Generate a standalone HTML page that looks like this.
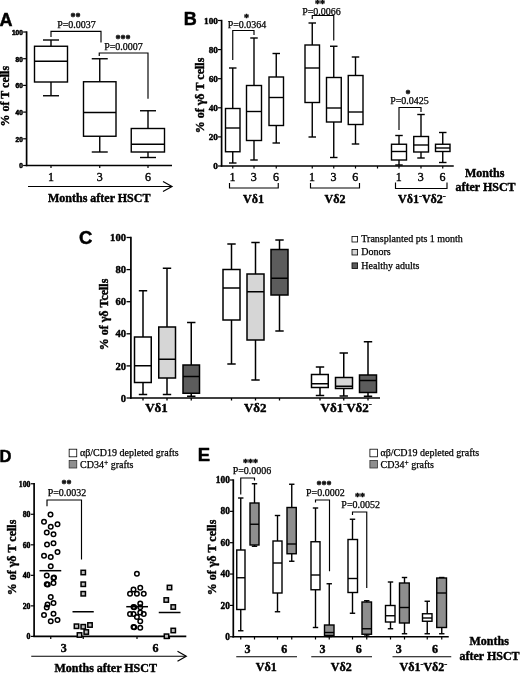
<!DOCTYPE html><html><head><meta charset="utf-8"><title>Figure</title>
<style>html,body{margin:0;padding:0;background:#fff}svg{display:block;filter:blur(0.3px)}</style></head><body>
<svg width="520" height="673" viewBox="0 0 520 673">
<rect width="520" height="673" fill="#fff"/>
<text x="-0.5" y="26.2" font-family='"Liberation Sans", sans-serif' font-size="18" font-weight="bold" stroke="#000" stroke-width="0.5" stroke-linejoin="round" text-anchor="start" >A</text>
<text x="183.7" y="24.8" font-family='"Liberation Sans", sans-serif' font-size="18" font-weight="bold" stroke="#000" stroke-width="0.5" stroke-linejoin="round" text-anchor="start" >B</text>
<text x="78.9" y="243.8" font-family='"Liberation Sans", sans-serif' font-size="18.5" font-weight="bold" stroke="#000" stroke-width="0.5" stroke-linejoin="round" text-anchor="start" >C</text>
<text x="-0.6" y="462.3" font-family='"Liberation Sans", sans-serif' font-size="16.5" font-weight="bold" stroke="#000" stroke-width="0.5" stroke-linejoin="round" text-anchor="start" >D</text>
<text x="197.7" y="461" font-family='"Liberation Sans", sans-serif' font-size="18.5" font-weight="bold" stroke="#000" stroke-width="0.5" stroke-linejoin="round" text-anchor="start" >E</text>
<line x1="26.6" y1="31.3" x2="26.6" y2="166.2" stroke="#000" stroke-width="1.7" />
<line x1="25.75" y1="165.5" x2="172" y2="165.5" stroke="#000" stroke-width="1.7" />
<line x1="23.1" y1="32.0" x2="26.6" y2="32.0" stroke="#000" stroke-width="1.2" />
<text x="22.8" y="34.8" font-family='"Liberation Sans", sans-serif' font-size="6.5" font-weight="bold" stroke="#000" stroke-width="0.55" stroke-linejoin="round" text-anchor="end" >100</text>
<line x1="23.1" y1="58.7" x2="26.6" y2="58.7" stroke="#000" stroke-width="1.2" />
<text x="22.8" y="61.5" font-family='"Liberation Sans", sans-serif' font-size="6.5" font-weight="bold" stroke="#000" stroke-width="0.55" stroke-linejoin="round" text-anchor="end" >80</text>
<line x1="23.1" y1="85.4" x2="26.6" y2="85.4" stroke="#000" stroke-width="1.2" />
<text x="22.8" y="88.2" font-family='"Liberation Sans", sans-serif' font-size="6.5" font-weight="bold" stroke="#000" stroke-width="0.55" stroke-linejoin="round" text-anchor="end" >60</text>
<line x1="23.1" y1="112.1" x2="26.6" y2="112.1" stroke="#000" stroke-width="1.2" />
<text x="22.8" y="114.89999999999999" font-family='"Liberation Sans", sans-serif' font-size="6.5" font-weight="bold" stroke="#000" stroke-width="0.55" stroke-linejoin="round" text-anchor="end" >40</text>
<line x1="23.1" y1="138.8" x2="26.6" y2="138.8" stroke="#000" stroke-width="1.2" />
<text x="22.8" y="141.60000000000002" font-family='"Liberation Sans", sans-serif' font-size="6.5" font-weight="bold" stroke="#000" stroke-width="0.55" stroke-linejoin="round" text-anchor="end" >20</text>
<line x1="23.1" y1="165.5" x2="26.6" y2="165.5" stroke="#000" stroke-width="1.2" />
<text x="22.8" y="168.3" font-family='"Liberation Sans", sans-serif' font-size="6.5" font-weight="bold" stroke="#000" stroke-width="0.55" stroke-linejoin="round" text-anchor="end" >0</text>
<line x1="51" y1="165.5" x2="51" y2="168" stroke="#000" stroke-width="1.2" />
<line x1="99.75" y1="165.5" x2="99.75" y2="168" stroke="#000" stroke-width="1.2" />
<line x1="148" y1="165.5" x2="148" y2="168" stroke="#000" stroke-width="1.2" />
<line x1="51" y1="40" x2="51" y2="46.25" stroke="#000" stroke-width="1.4" />
<line x1="51" y1="82" x2="51" y2="95.75" stroke="#000" stroke-width="1.4" />
<line x1="43" y1="40" x2="59" y2="40" stroke="#000" stroke-width="1.4" />
<line x1="43" y1="95.75" x2="59" y2="95.75" stroke="#000" stroke-width="1.4" />
<rect x="34.5" y="46.25" width="33.0" height="35.75" fill="#fff" stroke="#000" stroke-width="1.4"/>
<line x1="34.5" y1="61.25" x2="67.5" y2="61.25" stroke="#000" stroke-width="1.4" />
<line x1="99.75" y1="58.75" x2="99.75" y2="81.75" stroke="#000" stroke-width="1.4" />
<line x1="99.75" y1="136.25" x2="99.75" y2="152" stroke="#000" stroke-width="1.4" />
<line x1="91.75" y1="58.75" x2="107.75" y2="58.75" stroke="#000" stroke-width="1.4" />
<line x1="91.75" y1="152" x2="107.75" y2="152" stroke="#000" stroke-width="1.4" />
<rect x="83.5" y="81.75" width="32.5" height="54.5" fill="#fff" stroke="#000" stroke-width="1.4"/>
<line x1="83.5" y1="112.5" x2="116" y2="112.5" stroke="#000" stroke-width="1.4" />
<line x1="148" y1="110.75" x2="148" y2="128.5" stroke="#000" stroke-width="1.4" />
<line x1="148" y1="152" x2="148" y2="157.5" stroke="#000" stroke-width="1.4" />
<line x1="140" y1="110.75" x2="156" y2="110.75" stroke="#000" stroke-width="1.4" />
<line x1="140" y1="157.5" x2="156" y2="157.5" stroke="#000" stroke-width="1.4" />
<rect x="131.25" y="128.5" width="33.25" height="23.5" fill="#fff" stroke="#000" stroke-width="1.4"/>
<line x1="131.25" y1="144.25" x2="164.5" y2="144.25" stroke="#000" stroke-width="1.4" />
<text transform="translate(9,96.2) rotate(-90)" font-family='"Liberation Serif", serif' font-size="12" font-weight="bold" stroke="#000" stroke-width="0.42" text-anchor="middle">% of T cells</text>
<text x="51" y="180.6" font-family='"Liberation Serif", serif' font-size="12" stroke="#000" stroke-width="0.4" stroke-linejoin="round" text-anchor="middle" >1</text>
<text x="99.75" y="180.6" font-family='"Liberation Serif", serif' font-size="12" stroke="#000" stroke-width="0.4" stroke-linejoin="round" text-anchor="middle" >3</text>
<text x="148" y="180.6" font-family='"Liberation Serif", serif' font-size="12" stroke="#000" stroke-width="0.4" stroke-linejoin="round" text-anchor="middle" >6</text>
<line x1="28" y1="186.5" x2="171.5" y2="186.5" stroke="#000" stroke-width="1.2" />
<polyline points="163,181.5 172,186.5 163,191.5" fill="none" stroke="#000" stroke-width="1.2"/>
<text x="48" y="202" font-family='"Liberation Serif", serif' font-size="12" font-weight="bold" stroke="#000" stroke-width="0.42" stroke-linejoin="round" text-anchor="start" >Months after HSCT</text>
<polyline points="51,37 51,31.3 101,31.3 101,42.5" fill="none" stroke="#000" stroke-width="1.15"/>
<text x="76.5" y="28" font-family='"Liberation Serif", serif' font-size="10" stroke="#000" stroke-width="0.25" stroke-linejoin="round" text-anchor="middle" >P=0.0037</text>
<text x="75.5" y="20" font-family='"Liberation Serif", serif' font-size="10" font-weight="bold" stroke="#000" stroke-width="0.42" stroke-linejoin="round" text-anchor="middle" >**</text>
<polyline points="99.25,56 99.25,53 148,53 148,98.75" fill="none" stroke="#000" stroke-width="1.15"/>
<text x="123.5" y="49.5" font-family='"Liberation Serif", serif' font-size="10" stroke="#000" stroke-width="0.25" stroke-linejoin="round" text-anchor="middle" >P=0.0007</text>
<text x="123" y="41.5" font-family='"Liberation Serif", serif' font-size="10" font-weight="bold" stroke="#000" stroke-width="0.42" stroke-linejoin="round" text-anchor="middle" >***</text>
<line x1="221.6" y1="19.8" x2="221.6" y2="166.7" stroke="#000" stroke-width="1.7" />
<line x1="220.75" y1="166" x2="453.75" y2="166" stroke="#000" stroke-width="1.7" />
<line x1="218.0" y1="20.5" x2="221.6" y2="20.5" stroke="#000" stroke-width="1.2" />
<text x="217.9" y="23.6" font-family='"Liberation Serif", serif' font-size="9.2" font-weight="bold" stroke="#000" stroke-width="0.42" stroke-linejoin="round" text-anchor="end" >100</text>
<line x1="218.0" y1="49.6" x2="221.6" y2="49.6" stroke="#000" stroke-width="1.2" />
<text x="217.9" y="52.7" font-family='"Liberation Serif", serif' font-size="9.2" font-weight="bold" stroke="#000" stroke-width="0.42" stroke-linejoin="round" text-anchor="end" >80</text>
<line x1="218.0" y1="78.7" x2="221.6" y2="78.7" stroke="#000" stroke-width="1.2" />
<text x="217.9" y="81.8" font-family='"Liberation Serif", serif' font-size="9.2" font-weight="bold" stroke="#000" stroke-width="0.42" stroke-linejoin="round" text-anchor="end" >60</text>
<line x1="218.0" y1="107.80000000000001" x2="221.6" y2="107.80000000000001" stroke="#000" stroke-width="1.2" />
<text x="217.9" y="110.9" font-family='"Liberation Serif", serif' font-size="9.2" font-weight="bold" stroke="#000" stroke-width="0.42" stroke-linejoin="round" text-anchor="end" >40</text>
<line x1="218.0" y1="136.9" x2="221.6" y2="136.9" stroke="#000" stroke-width="1.2" />
<text x="217.9" y="140.0" font-family='"Liberation Serif", serif' font-size="9.2" font-weight="bold" stroke="#000" stroke-width="0.42" stroke-linejoin="round" text-anchor="end" >20</text>
<line x1="218.0" y1="166.0" x2="221.6" y2="166.0" stroke="#000" stroke-width="1.2" />
<text x="217.9" y="169.1" font-family='"Liberation Serif", serif' font-size="9.2" font-weight="bold" stroke="#000" stroke-width="0.42" stroke-linejoin="round" text-anchor="end" >0</text>
<line x1="232.75" y1="166" x2="232.75" y2="168.5" stroke="#000" stroke-width="1.2" />
<line x1="254" y1="166" x2="254" y2="168.5" stroke="#000" stroke-width="1.2" />
<line x1="276.25" y1="166" x2="276.25" y2="168.5" stroke="#000" stroke-width="1.2" />
<line x1="312.25" y1="166" x2="312.25" y2="168.5" stroke="#000" stroke-width="1.2" />
<line x1="333.75" y1="166" x2="333.75" y2="168.5" stroke="#000" stroke-width="1.2" />
<line x1="355.5" y1="166" x2="355.5" y2="168.5" stroke="#000" stroke-width="1.2" />
<line x1="399" y1="166" x2="399" y2="168.5" stroke="#000" stroke-width="1.2" />
<line x1="421" y1="166" x2="421" y2="168.5" stroke="#000" stroke-width="1.2" />
<line x1="442.75" y1="166" x2="442.75" y2="168.5" stroke="#000" stroke-width="1.2" />
<line x1="377.5" y1="166" x2="377.5" y2="168.5" stroke="#000" stroke-width="1.2" />
<line x1="232.75" y1="68" x2="232.75" y2="108.5" stroke="#000" stroke-width="1.4" />
<line x1="232.75" y1="151.75" x2="232.75" y2="163" stroke="#000" stroke-width="1.4" />
<line x1="229.0" y1="68" x2="236.5" y2="68" stroke="#000" stroke-width="1.4" />
<line x1="229.0" y1="163" x2="236.5" y2="163" stroke="#000" stroke-width="1.4" />
<rect x="225.5" y="108.5" width="14.5" height="43.25" fill="#fff" stroke="#000" stroke-width="1.4"/>
<line x1="225.5" y1="128" x2="240" y2="128" stroke="#000" stroke-width="1.4" />
<line x1="254" y1="38" x2="254" y2="85.5" stroke="#000" stroke-width="1.4" />
<line x1="254" y1="140.5" x2="254" y2="160" stroke="#000" stroke-width="1.4" />
<line x1="250.25" y1="38" x2="257.75" y2="38" stroke="#000" stroke-width="1.4" />
<line x1="250.25" y1="160" x2="257.75" y2="160" stroke="#000" stroke-width="1.4" />
<rect x="246.5" y="85.5" width="15.0" height="55.0" fill="#fff" stroke="#000" stroke-width="1.4"/>
<line x1="246.5" y1="111.5" x2="261.5" y2="111.5" stroke="#000" stroke-width="1.4" />
<line x1="276.25" y1="53.5" x2="276.25" y2="77" stroke="#000" stroke-width="1.4" />
<line x1="276.25" y1="125.5" x2="276.25" y2="143" stroke="#000" stroke-width="1.4" />
<line x1="272.5" y1="53.5" x2="280.0" y2="53.5" stroke="#000" stroke-width="1.4" />
<line x1="272.5" y1="143" x2="280.0" y2="143" stroke="#000" stroke-width="1.4" />
<rect x="269" y="77" width="14.5" height="48.5" fill="#fff" stroke="#000" stroke-width="1.4"/>
<line x1="269" y1="97.5" x2="283.5" y2="97.5" stroke="#000" stroke-width="1.4" />
<line x1="312.25" y1="23" x2="312.25" y2="45" stroke="#000" stroke-width="1.4" />
<line x1="312.25" y1="102.5" x2="312.25" y2="137" stroke="#000" stroke-width="1.4" />
<line x1="308.5" y1="23" x2="316.0" y2="23" stroke="#000" stroke-width="1.4" />
<line x1="308.5" y1="137" x2="316.0" y2="137" stroke="#000" stroke-width="1.4" />
<rect x="305" y="45" width="14.5" height="57.5" fill="#fff" stroke="#000" stroke-width="1.4"/>
<line x1="305" y1="68" x2="319.5" y2="68" stroke="#000" stroke-width="1.4" />
<line x1="333.75" y1="46.25" x2="333.75" y2="77.5" stroke="#000" stroke-width="1.4" />
<line x1="333.75" y1="122" x2="333.75" y2="157.5" stroke="#000" stroke-width="1.4" />
<line x1="330.0" y1="46.25" x2="337.5" y2="46.25" stroke="#000" stroke-width="1.4" />
<line x1="330.0" y1="157.5" x2="337.5" y2="157.5" stroke="#000" stroke-width="1.4" />
<rect x="326.5" y="77.5" width="14.75" height="44.5" fill="#fff" stroke="#000" stroke-width="1.4"/>
<line x1="326.5" y1="108" x2="341.25" y2="108" stroke="#000" stroke-width="1.4" />
<line x1="355.5" y1="57" x2="355.5" y2="75.5" stroke="#000" stroke-width="1.4" />
<line x1="355.5" y1="124.5" x2="355.5" y2="144" stroke="#000" stroke-width="1.4" />
<line x1="351.75" y1="57" x2="359.25" y2="57" stroke="#000" stroke-width="1.4" />
<line x1="351.75" y1="144" x2="359.25" y2="144" stroke="#000" stroke-width="1.4" />
<rect x="348.25" y="75.5" width="14.75" height="49.0" fill="#fff" stroke="#000" stroke-width="1.4"/>
<line x1="348.25" y1="112" x2="363" y2="112" stroke="#000" stroke-width="1.4" />
<line x1="399" y1="135.5" x2="399" y2="144.25" stroke="#000" stroke-width="1.4" />
<line x1="399" y1="160" x2="399" y2="165" stroke="#000" stroke-width="1.4" />
<line x1="395.25" y1="135.5" x2="402.75" y2="135.5" stroke="#000" stroke-width="1.4" />
<line x1="395.25" y1="165" x2="402.75" y2="165" stroke="#000" stroke-width="1.4" />
<rect x="391.5" y="144.25" width="15.0" height="15.75" fill="#fff" stroke="#000" stroke-width="1.4"/>
<line x1="391.5" y1="151.5" x2="406.5" y2="151.5" stroke="#000" stroke-width="1.4" />
<line x1="421" y1="114.5" x2="421" y2="136.5" stroke="#000" stroke-width="1.4" />
<line x1="421" y1="152" x2="421" y2="158" stroke="#000" stroke-width="1.4" />
<line x1="417.25" y1="114.5" x2="424.75" y2="114.5" stroke="#000" stroke-width="1.4" />
<line x1="417.25" y1="158" x2="424.75" y2="158" stroke="#000" stroke-width="1.4" />
<rect x="413.75" y="136.5" width="14.75" height="15.5" fill="#fff" stroke="#000" stroke-width="1.4"/>
<line x1="413.75" y1="145" x2="428.5" y2="145" stroke="#000" stroke-width="1.4" />
<line x1="442.75" y1="132.5" x2="442.75" y2="144.25" stroke="#000" stroke-width="1.4" />
<line x1="442.75" y1="151.5" x2="442.75" y2="162.5" stroke="#000" stroke-width="1.4" />
<line x1="439.0" y1="132.5" x2="446.5" y2="132.5" stroke="#000" stroke-width="1.4" />
<line x1="439.0" y1="162.5" x2="446.5" y2="162.5" stroke="#000" stroke-width="1.4" />
<rect x="435.5" y="144.25" width="14.5" height="7.25" fill="#fff" stroke="#000" stroke-width="1.4"/>
<line x1="435.5" y1="148" x2="450" y2="148" stroke="#000" stroke-width="1.4" />
<text transform="translate(204.1,95.5) rotate(-90)" font-family='"Liberation Serif", serif' font-size="12" font-weight="bold" stroke="#000" stroke-width="0.42" text-anchor="middle">% of γδ T cells</text>
<text x="232.55" y="180.6" font-family='"Liberation Serif", serif' font-size="12" stroke="#000" stroke-width="0.4" stroke-linejoin="round" text-anchor="middle" >1</text>
<text x="253.8" y="180.6" font-family='"Liberation Serif", serif' font-size="12" stroke="#000" stroke-width="0.4" stroke-linejoin="round" text-anchor="middle" >3</text>
<text x="276.05" y="180.6" font-family='"Liberation Serif", serif' font-size="12" stroke="#000" stroke-width="0.4" stroke-linejoin="round" text-anchor="middle" >6</text>
<text x="312.05" y="180.6" font-family='"Liberation Serif", serif' font-size="12" stroke="#000" stroke-width="0.4" stroke-linejoin="round" text-anchor="middle" >1</text>
<text x="333.55" y="180.6" font-family='"Liberation Serif", serif' font-size="12" stroke="#000" stroke-width="0.4" stroke-linejoin="round" text-anchor="middle" >3</text>
<text x="355.3" y="180.6" font-family='"Liberation Serif", serif' font-size="12" stroke="#000" stroke-width="0.4" stroke-linejoin="round" text-anchor="middle" >6</text>
<text x="398.8" y="180.6" font-family='"Liberation Serif", serif' font-size="12" stroke="#000" stroke-width="0.4" stroke-linejoin="round" text-anchor="middle" >1</text>
<text x="420.8" y="180.6" font-family='"Liberation Serif", serif' font-size="12" stroke="#000" stroke-width="0.4" stroke-linejoin="round" text-anchor="middle" >3</text>
<text x="442.55" y="180.6" font-family='"Liberation Serif", serif' font-size="12" stroke="#000" stroke-width="0.4" stroke-linejoin="round" text-anchor="middle" >6</text>
<polyline points="229.5,183 229.5,188 278.25,188 278.25,183" fill="none" stroke="#000" stroke-width="1.15"/>
<polyline points="310.5,183 310.5,188 359.5,188 359.5,183" fill="none" stroke="#000" stroke-width="1.15"/>
<polyline points="395.5,182.5 395.5,188.5 447,188.5 447,182.5" fill="none" stroke="#000" stroke-width="1.15"/>
<text x="253.5" y="203" font-family='"Liberation Serif", serif' font-size="12" font-weight="bold" stroke="#000" stroke-width="0.42" stroke-linejoin="round" text-anchor="middle" >Vδ1</text>
<text x="335" y="203" font-family='"Liberation Serif", serif' font-size="12" font-weight="bold" stroke="#000" stroke-width="0.42" stroke-linejoin="round" text-anchor="middle" >Vδ2</text>
<text x="398" y="203" font-family='"Liberation Serif", serif' font-size="12" font-weight="bold" stroke="#000" stroke-width="0.42" stroke-linejoin="round" text-anchor="start" >Vδ1<tspan dy="-4.5" font-size="9">-</tspan><tspan dy="4.5">Vδ2</tspan><tspan dy="-4.5" font-size="9">-</tspan></text>
<text x="465" y="177" font-family='"Liberation Serif", serif' font-size="12" font-weight="bold" stroke="#000" stroke-width="0.42" stroke-linejoin="round" text-anchor="start" >Months</text>
<text x="455.5" y="191.25" font-family='"Liberation Serif", serif' font-size="12" font-weight="bold" stroke="#000" stroke-width="0.42" stroke-linejoin="round" text-anchor="start" >after HSCT</text>
<polyline points="232.75,60 232.75,30.5 254,30.5 254,35" fill="none" stroke="#000" stroke-width="1.15"/>
<text x="247" y="28.3" font-family='"Liberation Serif", serif' font-size="10" stroke="#000" stroke-width="0.25" stroke-linejoin="round" text-anchor="middle" >P=0.0364</text>
<text x="246.5" y="20.5" font-family='"Liberation Serif", serif' font-size="10" font-weight="bold" stroke="#000" stroke-width="0.42" stroke-linejoin="round" text-anchor="middle" >*</text>
<polyline points="312.25,19 312.25,15.5 333.75,15.5 333.75,40.5" fill="none" stroke="#000" stroke-width="1.15"/>
<text x="321.5" y="14.8" font-family='"Liberation Serif", serif' font-size="10" stroke="#000" stroke-width="0.25" stroke-linejoin="round" text-anchor="middle" >P=0.0066</text>
<text x="320" y="6.5" font-family='"Liberation Serif", serif' font-size="10" font-weight="bold" stroke="#000" stroke-width="0.42" stroke-linejoin="round" text-anchor="middle" >**</text>
<polyline points="399,130 399,107.5 421,107.5 421,112" fill="none" stroke="#000" stroke-width="1.15"/>
<text x="409.5" y="104.3" font-family='"Liberation Serif", serif' font-size="10" stroke="#000" stroke-width="0.25" stroke-linejoin="round" text-anchor="middle" >P=0.0425</text>
<text x="408" y="96.5" font-family='"Liberation Serif", serif' font-size="10" font-weight="bold" stroke="#000" stroke-width="0.42" stroke-linejoin="round" text-anchor="middle" >*</text>
<line x1="130.9" y1="236.8" x2="130.9" y2="398.85" stroke="#000" stroke-width="1.7" />
<line x1="130.05" y1="398" x2="380" y2="398" stroke="#000" stroke-width="1.7" />
<line x1="126.5" y1="237.5" x2="130.9" y2="237.5" stroke="#000" stroke-width="1.3" />
<text x="126.0" y="241.1" font-family='"Liberation Serif", serif' font-size="10.6" font-weight="bold" stroke="#000" stroke-width="0.42" stroke-linejoin="round" text-anchor="end" >100</text>
<line x1="126.5" y1="269.6" x2="130.9" y2="269.6" stroke="#000" stroke-width="1.3" />
<text x="126.0" y="273.20000000000005" font-family='"Liberation Serif", serif' font-size="10.6" font-weight="bold" stroke="#000" stroke-width="0.42" stroke-linejoin="round" text-anchor="end" >80</text>
<line x1="126.5" y1="301.7" x2="130.9" y2="301.7" stroke="#000" stroke-width="1.3" />
<text x="126.0" y="305.3" font-family='"Liberation Serif", serif' font-size="10.6" font-weight="bold" stroke="#000" stroke-width="0.42" stroke-linejoin="round" text-anchor="end" >60</text>
<line x1="126.5" y1="333.8" x2="130.9" y2="333.8" stroke="#000" stroke-width="1.3" />
<text x="126.0" y="337.40000000000003" font-family='"Liberation Serif", serif' font-size="10.6" font-weight="bold" stroke="#000" stroke-width="0.42" stroke-linejoin="round" text-anchor="end" >40</text>
<line x1="126.5" y1="365.9" x2="130.9" y2="365.9" stroke="#000" stroke-width="1.3" />
<text x="126.0" y="369.5" font-family='"Liberation Serif", serif' font-size="10.6" font-weight="bold" stroke="#000" stroke-width="0.42" stroke-linejoin="round" text-anchor="end" >20</text>
<line x1="126.5" y1="398.0" x2="130.9" y2="398.0" stroke="#000" stroke-width="1.3" />
<text x="126.0" y="401.6" font-family='"Liberation Serif", serif' font-size="10.6" font-weight="bold" stroke="#000" stroke-width="0.42" stroke-linejoin="round" text-anchor="end" >0</text>
<line x1="143" y1="398" x2="143" y2="400.5" stroke="#000" stroke-width="1.3" />
<line x1="167" y1="398" x2="167" y2="400.5" stroke="#000" stroke-width="1.3" />
<line x1="191.25" y1="398" x2="191.25" y2="400.5" stroke="#000" stroke-width="1.3" />
<line x1="231.5" y1="398" x2="231.5" y2="400.5" stroke="#000" stroke-width="1.3" />
<line x1="255.5" y1="398" x2="255.5" y2="400.5" stroke="#000" stroke-width="1.3" />
<line x1="279.5" y1="398" x2="279.5" y2="400.5" stroke="#000" stroke-width="1.3" />
<line x1="320" y1="398" x2="320" y2="400.5" stroke="#000" stroke-width="1.3" />
<line x1="343.75" y1="398" x2="343.75" y2="400.5" stroke="#000" stroke-width="1.3" />
<line x1="368" y1="398" x2="368" y2="400.5" stroke="#000" stroke-width="1.3" />
<line x1="143" y1="290.75" x2="143" y2="337" stroke="#000" stroke-width="1.5" />
<line x1="143" y1="382.5" x2="143" y2="394.5" stroke="#000" stroke-width="1.5" />
<line x1="138.8" y1="290.75" x2="147.2" y2="290.75" stroke="#000" stroke-width="1.5" />
<line x1="138.8" y1="394.5" x2="147.2" y2="394.5" stroke="#000" stroke-width="1.5" />
<rect x="134.5" y="337" width="16.75" height="45.5" fill="#fff" stroke="#000" stroke-width="1.5"/>
<line x1="134.5" y1="365.75" x2="151.25" y2="365.75" stroke="#000" stroke-width="1.5" />
<line x1="167" y1="268.25" x2="167" y2="327" stroke="#000" stroke-width="1.5" />
<line x1="167" y1="378" x2="167" y2="394.5" stroke="#000" stroke-width="1.5" />
<line x1="162.8" y1="268.25" x2="171.2" y2="268.25" stroke="#000" stroke-width="1.5" />
<line x1="162.8" y1="394.5" x2="171.2" y2="394.5" stroke="#000" stroke-width="1.5" />
<rect x="158.75" y="327" width="16.75" height="51" fill="#d6d6d6" stroke="#000" stroke-width="1.5"/>
<line x1="158.75" y1="359.25" x2="175.5" y2="359.25" stroke="#000" stroke-width="1.5" />
<line x1="191.25" y1="322.5" x2="191.25" y2="365" stroke="#000" stroke-width="1.5" />
<line x1="191.25" y1="393.25" x2="191.25" y2="396.25" stroke="#000" stroke-width="1.5" />
<line x1="187.05" y1="322.5" x2="195.45" y2="322.5" stroke="#000" stroke-width="1.5" />
<line x1="187.05" y1="396.25" x2="195.45" y2="396.25" stroke="#000" stroke-width="1.5" />
<rect x="183" y="365" width="16.5" height="28.25" fill="#5c5c5c" stroke="#000" stroke-width="1.5"/>
<line x1="183" y1="376.5" x2="199.5" y2="376.5" stroke="#000" stroke-width="1.5" />
<line x1="231.5" y1="244" x2="231.5" y2="269.5" stroke="#000" stroke-width="1.5" />
<line x1="231.5" y1="320" x2="231.5" y2="364" stroke="#000" stroke-width="1.5" />
<line x1="227.3" y1="244" x2="235.7" y2="244" stroke="#000" stroke-width="1.5" />
<line x1="227.3" y1="364" x2="235.7" y2="364" stroke="#000" stroke-width="1.5" />
<rect x="223" y="269.5" width="17" height="50.5" fill="#fff" stroke="#000" stroke-width="1.5"/>
<line x1="223" y1="288" x2="240" y2="288" stroke="#000" stroke-width="1.5" />
<line x1="255.5" y1="242.5" x2="255.5" y2="274" stroke="#000" stroke-width="1.5" />
<line x1="255.5" y1="340" x2="255.5" y2="380" stroke="#000" stroke-width="1.5" />
<line x1="251.3" y1="242.5" x2="259.7" y2="242.5" stroke="#000" stroke-width="1.5" />
<line x1="251.3" y1="380" x2="259.7" y2="380" stroke="#000" stroke-width="1.5" />
<rect x="247" y="274" width="17" height="66" fill="#d6d6d6" stroke="#000" stroke-width="1.5"/>
<line x1="247" y1="291.75" x2="264" y2="291.75" stroke="#000" stroke-width="1.5" />
<line x1="279.5" y1="240" x2="279.5" y2="249.5" stroke="#000" stroke-width="1.5" />
<line x1="279.5" y1="295" x2="279.5" y2="331" stroke="#000" stroke-width="1.5" />
<line x1="275.3" y1="240" x2="283.7" y2="240" stroke="#000" stroke-width="1.5" />
<line x1="275.3" y1="331" x2="283.7" y2="331" stroke="#000" stroke-width="1.5" />
<rect x="271" y="249.5" width="17" height="45.5" fill="#5c5c5c" stroke="#000" stroke-width="1.5"/>
<line x1="271" y1="278.25" x2="288" y2="278.25" stroke="#000" stroke-width="1.5" />
<line x1="320" y1="367" x2="320" y2="374.5" stroke="#000" stroke-width="1.5" />
<line x1="320" y1="387.5" x2="320" y2="395.5" stroke="#000" stroke-width="1.5" />
<line x1="315.8" y1="367" x2="324.2" y2="367" stroke="#000" stroke-width="1.5" />
<line x1="315.8" y1="395.5" x2="324.2" y2="395.5" stroke="#000" stroke-width="1.5" />
<rect x="311.5" y="374.5" width="16.75" height="13.0" fill="#fff" stroke="#000" stroke-width="1.5"/>
<line x1="311.5" y1="383.75" x2="328.25" y2="383.75" stroke="#000" stroke-width="1.5" />
<line x1="343.75" y1="353" x2="343.75" y2="377.5" stroke="#000" stroke-width="1.5" />
<line x1="343.75" y1="388.5" x2="343.75" y2="396" stroke="#000" stroke-width="1.5" />
<line x1="339.55" y1="353" x2="347.95" y2="353" stroke="#000" stroke-width="1.5" />
<line x1="339.55" y1="396" x2="347.95" y2="396" stroke="#000" stroke-width="1.5" />
<rect x="335.5" y="377.5" width="17.0" height="11.0" fill="#d6d6d6" stroke="#000" stroke-width="1.5"/>
<line x1="335.5" y1="386.25" x2="352.5" y2="386.25" stroke="#000" stroke-width="1.5" />
<line x1="368" y1="341.75" x2="368" y2="375" stroke="#000" stroke-width="1.5" />
<line x1="368" y1="392.5" x2="368" y2="396.25" stroke="#000" stroke-width="1.5" />
<line x1="363.8" y1="341.75" x2="372.2" y2="341.75" stroke="#000" stroke-width="1.5" />
<line x1="363.8" y1="396.25" x2="372.2" y2="396.25" stroke="#000" stroke-width="1.5" />
<rect x="359.5" y="375" width="17.0" height="17.5" fill="#5c5c5c" stroke="#000" stroke-width="1.5"/>
<line x1="359.5" y1="380.5" x2="376.5" y2="380.5" stroke="#000" stroke-width="1.5" />
<text transform="translate(108,314.5) rotate(-90)" font-family='"Liberation Serif", serif' font-size="12" font-weight="bold" stroke="#000" stroke-width="0.42" text-anchor="middle">% of γδ Tcells</text>
<text x="156.5" y="411.5" font-family='"Liberation Serif", serif' font-size="13" font-weight="bold" stroke="#000" stroke-width="0.42" stroke-linejoin="round" text-anchor="middle" >Vδ1</text>
<text x="255.3" y="412" font-family='"Liberation Serif", serif' font-size="13" font-weight="bold" stroke="#000" stroke-width="0.42" stroke-linejoin="round" text-anchor="middle" >Vδ2</text>
<text x="320.5" y="411.5" font-family='"Liberation Serif", serif' font-size="13" font-weight="bold" stroke="#000" stroke-width="0.42" stroke-linejoin="round" text-anchor="start" >Vδ1<tspan dy="-4.5" font-size="9">-</tspan><tspan dy="4.5">Vδ2</tspan><tspan dy="-4.5" font-size="9">-</tspan></text>
<rect x="352" y="236.4" width="5.6" height="5.6" fill="#fff" stroke="#000" stroke-width="0.8"/>
<text x="361.3" y="242" font-family='"Liberation Serif", serif' font-size="10" stroke="#000" stroke-width="0.25" stroke-linejoin="round" text-anchor="start" >Transplanted pts 1 month</text>
<rect x="352" y="249.4" width="5.6" height="5.6" fill="#d6d6d6" stroke="#000" stroke-width="0.8"/>
<text x="361.3" y="255" font-family='"Liberation Serif", serif' font-size="10" stroke="#000" stroke-width="0.25" stroke-linejoin="round" text-anchor="start" >Donors</text>
<rect x="352" y="262.9" width="5.6" height="5.6" fill="#5c5c5c" stroke="#000" stroke-width="0.8"/>
<text x="361.3" y="268.5" font-family='"Liberation Serif", serif' font-size="10" stroke="#000" stroke-width="0.25" stroke-linejoin="round" text-anchor="start" >Healthy adults</text>
<line x1="34.1" y1="483" x2="34.1" y2="637.1" stroke="#000" stroke-width="1.7" />
<line x1="33.25" y1="636.4" x2="186.3" y2="636.4" stroke="#000" stroke-width="1.7" />
<line x1="30.8" y1="483.75" x2="34.1" y2="483.75" stroke="#000" stroke-width="1.2" />
<text x="30.5" y="486.75" font-family='"Liberation Serif", serif' font-size="9" font-weight="bold" stroke="#000" stroke-width="0.5" stroke-linejoin="round" text-anchor="end" textLength="11.7" lengthAdjust="spacingAndGlyphs">100</text>
<line x1="30.8" y1="514.28" x2="34.1" y2="514.28" stroke="#000" stroke-width="1.2" />
<text x="30.5" y="517.28" font-family='"Liberation Serif", serif' font-size="9" font-weight="bold" stroke="#000" stroke-width="0.5" stroke-linejoin="round" text-anchor="end" textLength="7.8" lengthAdjust="spacingAndGlyphs">80</text>
<line x1="30.8" y1="544.81" x2="34.1" y2="544.81" stroke="#000" stroke-width="1.2" />
<text x="30.5" y="547.81" font-family='"Liberation Serif", serif' font-size="9" font-weight="bold" stroke="#000" stroke-width="0.5" stroke-linejoin="round" text-anchor="end" textLength="7.8" lengthAdjust="spacingAndGlyphs">60</text>
<line x1="30.8" y1="575.34" x2="34.1" y2="575.34" stroke="#000" stroke-width="1.2" />
<text x="30.5" y="578.34" font-family='"Liberation Serif", serif' font-size="9" font-weight="bold" stroke="#000" stroke-width="0.5" stroke-linejoin="round" text-anchor="end" textLength="7.8" lengthAdjust="spacingAndGlyphs">40</text>
<line x1="30.8" y1="605.87" x2="34.1" y2="605.87" stroke="#000" stroke-width="1.2" />
<text x="30.5" y="608.87" font-family='"Liberation Serif", serif' font-size="9" font-weight="bold" stroke="#000" stroke-width="0.5" stroke-linejoin="round" text-anchor="end" textLength="7.8" lengthAdjust="spacingAndGlyphs">20</text>
<line x1="30.8" y1="636.4" x2="34.1" y2="636.4" stroke="#000" stroke-width="1.2" />
<text x="30.5" y="639.4" font-family='"Liberation Serif", serif' font-size="9" font-weight="bold" stroke="#000" stroke-width="0.5" stroke-linejoin="round" text-anchor="end" textLength="3.9" lengthAdjust="spacingAndGlyphs">0</text>
<line x1="50.75" y1="636.4" x2="50.75" y2="639" stroke="#000" stroke-width="1.2" />
<line x1="83.25" y1="636.4" x2="83.25" y2="639" stroke="#000" stroke-width="1.2" />
<line x1="137" y1="636.4" x2="137" y2="639" stroke="#000" stroke-width="1.2" />
<line x1="169.5" y1="636.4" x2="169.5" y2="639" stroke="#000" stroke-width="1.2" />
<text transform="translate(15.5,557.5) rotate(-90)" font-family='"Liberation Serif", serif' font-size="12" font-weight="bold" stroke="#000" stroke-width="0.42" text-anchor="middle">% of γδ T cells</text>
<circle cx="50.5" cy="514.5" r="2.25" fill="#fff" fill-opacity="0" stroke="#000" stroke-width="1.5"/>
<circle cx="44" cy="521.75" r="2.25" fill="#fff" fill-opacity="0" stroke="#000" stroke-width="1.5"/>
<circle cx="57.5" cy="524.25" r="2.25" fill="#fff" fill-opacity="0" stroke="#000" stroke-width="1.5"/>
<circle cx="50.75" cy="526.75" r="2.25" fill="#fff" fill-opacity="0" stroke="#000" stroke-width="1.5"/>
<circle cx="46.75" cy="532.5" r="2.25" fill="#fff" fill-opacity="0" stroke="#000" stroke-width="1.5"/>
<circle cx="53.5" cy="534.25" r="2.25" fill="#fff" fill-opacity="0" stroke="#000" stroke-width="1.5"/>
<circle cx="47" cy="544.5" r="2.25" fill="#fff" fill-opacity="0" stroke="#000" stroke-width="1.5"/>
<circle cx="53.5" cy="543.25" r="2.25" fill="#fff" fill-opacity="0" stroke="#000" stroke-width="1.5"/>
<circle cx="57.5" cy="552" r="2.25" fill="#fff" fill-opacity="0" stroke="#000" stroke-width="1.5"/>
<circle cx="44" cy="555.75" r="2.25" fill="#fff" fill-opacity="0" stroke="#000" stroke-width="1.5"/>
<circle cx="50.75" cy="557" r="2.25" fill="#fff" fill-opacity="0" stroke="#000" stroke-width="1.5"/>
<circle cx="50.75" cy="566.25" r="2.25" fill="#fff" fill-opacity="0" stroke="#000" stroke-width="1.5"/>
<circle cx="46.75" cy="575.5" r="2.25" fill="#fff" fill-opacity="0" stroke="#000" stroke-width="1.5"/>
<circle cx="53.5" cy="578" r="2.25" fill="#fff" fill-opacity="0" stroke="#000" stroke-width="1.5"/>
<circle cx="54" cy="577.4" r="2.25" fill="#fff" fill-opacity="0" stroke="#000" stroke-width="1.5"/>
<circle cx="46.75" cy="584.25" r="2.25" fill="#fff" fill-opacity="0" stroke="#000" stroke-width="1.5"/>
<circle cx="53.5" cy="583" r="2.25" fill="#fff" fill-opacity="0" stroke="#000" stroke-width="1.5"/>
<circle cx="47.8" cy="584.6" r="2.25" fill="#fff" fill-opacity="0" stroke="#000" stroke-width="1.5"/>
<circle cx="50.75" cy="597" r="2.25" fill="#fff" fill-opacity="0" stroke="#000" stroke-width="1.5"/>
<circle cx="53.5" cy="603" r="2.25" fill="#fff" fill-opacity="0" stroke="#000" stroke-width="1.5"/>
<circle cx="47.5" cy="604.5" r="2.25" fill="#fff" fill-opacity="0" stroke="#000" stroke-width="1.5"/>
<circle cx="46.75" cy="607.5" r="2.25" fill="#fff" fill-opacity="0" stroke="#000" stroke-width="1.5"/>
<circle cx="44" cy="615" r="2.25" fill="#fff" fill-opacity="0" stroke="#000" stroke-width="1.5"/>
<circle cx="53.5" cy="613.75" r="2.25" fill="#fff" fill-opacity="0" stroke="#000" stroke-width="1.5"/>
<circle cx="50.75" cy="621.25" r="2.25" fill="#fff" fill-opacity="0" stroke="#000" stroke-width="1.5"/>
<circle cx="57.5" cy="620" r="2.25" fill="#fff" fill-opacity="0" stroke="#000" stroke-width="1.5"/>
<circle cx="136.9" cy="573.75" r="2.25" fill="#fff" fill-opacity="0" stroke="#000" stroke-width="1.5"/>
<circle cx="133.5" cy="589.6" r="2.25" fill="#fff" fill-opacity="0" stroke="#000" stroke-width="1.5"/>
<circle cx="140.25" cy="587.75" r="2.25" fill="#fff" fill-opacity="0" stroke="#000" stroke-width="1.5"/>
<circle cx="130" cy="593.75" r="2.25" fill="#fff" fill-opacity="0" stroke="#000" stroke-width="1.5"/>
<circle cx="136.9" cy="593.75" r="2.25" fill="#fff" fill-opacity="0" stroke="#000" stroke-width="1.5"/>
<circle cx="143.75" cy="593.75" r="2.25" fill="#fff" fill-opacity="0" stroke="#000" stroke-width="1.5"/>
<circle cx="140.25" cy="603.4" r="2.25" fill="#fff" fill-opacity="0" stroke="#000" stroke-width="1.5"/>
<circle cx="133.5" cy="606.9" r="2.25" fill="#fff" fill-opacity="0" stroke="#000" stroke-width="1.5"/>
<circle cx="134.2" cy="607.3" r="2.25" fill="#fff" fill-opacity="0" stroke="#000" stroke-width="1.5"/>
<circle cx="140.25" cy="607.25" r="2.25" fill="#fff" fill-opacity="0" stroke="#000" stroke-width="1.5"/>
<circle cx="130" cy="614" r="2.25" fill="#fff" fill-opacity="0" stroke="#000" stroke-width="1.5"/>
<circle cx="133.5" cy="614" r="2.25" fill="#fff" fill-opacity="0" stroke="#000" stroke-width="1.5"/>
<circle cx="140.25" cy="612.5" r="2.25" fill="#fff" fill-opacity="0" stroke="#000" stroke-width="1.5"/>
<circle cx="143.75" cy="614" r="2.25" fill="#fff" fill-opacity="0" stroke="#000" stroke-width="1.5"/>
<circle cx="136.9" cy="616.9" r="2.25" fill="#fff" fill-opacity="0" stroke="#000" stroke-width="1.5"/>
<circle cx="140.25" cy="621.25" r="2.25" fill="#fff" fill-opacity="0" stroke="#000" stroke-width="1.5"/>
<circle cx="133.5" cy="626.9" r="2.25" fill="#fff" fill-opacity="0" stroke="#000" stroke-width="1.5"/>
<circle cx="134.2" cy="627.3" r="2.25" fill="#fff" fill-opacity="0" stroke="#000" stroke-width="1.5"/>
<circle cx="140.25" cy="627.75" r="2.25" fill="#fff" fill-opacity="0" stroke="#000" stroke-width="1.5"/>
<rect x="81.05" y="570.3" width="4.4" height="4.4" fill="#c0c0c0" stroke="#000" stroke-width="1.5"/>
<rect x="81.05" y="582.05" width="4.4" height="4.4" fill="#c0c0c0" stroke="#000" stroke-width="1.5"/>
<rect x="81.05" y="591.55" width="4.4" height="4.4" fill="#c0c0c0" stroke="#000" stroke-width="1.5"/>
<rect x="74.3" y="624.05" width="4.4" height="4.4" fill="#c0c0c0" stroke="#000" stroke-width="1.5"/>
<rect x="81.05" y="624.55" width="4.4" height="4.4" fill="#c0c0c0" stroke="#000" stroke-width="1.5"/>
<rect x="87.8" y="622.8" width="4.4" height="4.4" fill="#c0c0c0" stroke="#000" stroke-width="1.5"/>
<rect x="84.05" y="629.8" width="4.4" height="4.4" fill="#c0c0c0" stroke="#000" stroke-width="1.5"/>
<rect x="77.3" y="632.8" width="4.4" height="4.4" fill="#c0c0c0" stroke="#000" stroke-width="1.5"/>
<rect x="167.3" y="585.3" width="4.4" height="4.4" fill="#c0c0c0" stroke="#000" stroke-width="1.5"/>
<rect x="164.05" y="597.8" width="4.4" height="4.4" fill="#c0c0c0" stroke="#000" stroke-width="1.5"/>
<rect x="171.05" y="604.8" width="4.4" height="4.4" fill="#c0c0c0" stroke="#000" stroke-width="1.5"/>
<rect x="171.05" y="628.3" width="4.4" height="4.4" fill="#c0c0c0" stroke="#000" stroke-width="1.5"/>
<rect x="164.3" y="634.05" width="4.4" height="4.4" fill="#c0c0c0" stroke="#000" stroke-width="1.5"/>
<line x1="39.5" y1="570.7" x2="61.25" y2="570.7" stroke="#000" stroke-width="1.5" />
<line x1="72.5" y1="611.75" x2="93.75" y2="611.75" stroke="#000" stroke-width="1.5" />
<line x1="126.25" y1="606.7" x2="148" y2="606.7" stroke="#000" stroke-width="1.5" />
<line x1="158.75" y1="612.5" x2="180.5" y2="612.5" stroke="#000" stroke-width="1.5" />
<text x="63.75" y="652" font-family='"Liberation Serif", serif' font-size="12" font-weight="bold" stroke="#000" stroke-width="0.42" stroke-linejoin="round" text-anchor="middle" >3</text>
<text x="155.5" y="652" font-family='"Liberation Serif", serif' font-size="12" font-weight="bold" stroke="#000" stroke-width="0.42" stroke-linejoin="round" text-anchor="middle" >6</text>
<line x1="31.25" y1="656.25" x2="185.8" y2="656.25" stroke="#000" stroke-width="1.2" />
<polyline points="177.5,651.25 186.25,656.25 177.5,661.25" fill="none" stroke="#000" stroke-width="1.2"/>
<text x="54.5" y="672" font-family='"Liberation Serif", serif' font-size="12" font-weight="bold" stroke="#000" stroke-width="0.42" stroke-linejoin="round" text-anchor="start" >Months after HSCT</text>
<polyline points="47,506.25 47,500 81.5,500 81.5,559.5" fill="none" stroke="#000" stroke-width="1.15"/>
<text x="67" y="495.5" font-family='"Liberation Serif", serif' font-size="10" stroke="#000" stroke-width="0.25" stroke-linejoin="round" text-anchor="middle" >P=0.0032</text>
<text x="66.5" y="487" font-family='"Liberation Serif", serif' font-size="10" font-weight="bold" stroke="#000" stroke-width="0.42" stroke-linejoin="round" text-anchor="middle" >**</text>
<rect x="69.15" y="449.2" width="7.6" height="7.6" fill="#fff" stroke="#000" stroke-width="0.8"/>
<rect x="69.15" y="460.4" width="7.6" height="7.6" fill="#8e8e8e" stroke="#333" stroke-width="0.8"/>
<text x="80" y="455.5" font-family='"Liberation Serif", serif' font-size="10" stroke="#000" stroke-width="0.25" stroke-linejoin="round" text-anchor="start" >αβ/CD19 depleted grafts</text>
<text x="80" y="468" font-family='"Liberation Serif", serif' font-size="10" stroke="#000" stroke-width="0.25" stroke-linejoin="round" text-anchor="start" >CD34<tspan dy="-3.5" font-size="7.5">+</tspan><tspan dy="3.5"> grafts</tspan></text>
<rect x="369.9" y="449.2" width="7.6" height="7.6" fill="#fff" stroke="#000" stroke-width="0.8"/>
<rect x="369.9" y="460.4" width="7.6" height="7.6" fill="#8e8e8e" stroke="#333" stroke-width="0.8"/>
<text x="380.5" y="455.5" font-family='"Liberation Serif", serif' font-size="10" stroke="#000" stroke-width="0.25" stroke-linejoin="round" text-anchor="start" >αβ/CD19 depleted grafts</text>
<text x="380.5" y="468" font-family='"Liberation Serif", serif' font-size="10" stroke="#000" stroke-width="0.25" stroke-linejoin="round" text-anchor="start" >CD34<tspan dy="-3.5" font-size="7.5">+</tspan><tspan dy="3.5"> grafts</tspan></text>
<line x1="233.3" y1="479.3" x2="233.3" y2="637.5" stroke="#000" stroke-width="1.7" />
<line x1="232.45000000000002" y1="636.75" x2="448.75" y2="636.75" stroke="#000" stroke-width="1.7" />
<line x1="230.0" y1="480.0" x2="233.3" y2="480.0" stroke="#000" stroke-width="1.2" />
<text x="229.9" y="483.1" font-family='"Liberation Serif", serif' font-size="9.4" font-weight="bold" stroke="#000" stroke-width="0.42" stroke-linejoin="round" text-anchor="end" >100</text>
<line x1="230.0" y1="511.35" x2="233.3" y2="511.35" stroke="#000" stroke-width="1.2" />
<text x="229.9" y="514.45" font-family='"Liberation Serif", serif' font-size="9.4" font-weight="bold" stroke="#000" stroke-width="0.42" stroke-linejoin="round" text-anchor="end" >80</text>
<line x1="230.0" y1="542.7" x2="233.3" y2="542.7" stroke="#000" stroke-width="1.2" />
<text x="229.9" y="545.8000000000001" font-family='"Liberation Serif", serif' font-size="9.4" font-weight="bold" stroke="#000" stroke-width="0.42" stroke-linejoin="round" text-anchor="end" >60</text>
<line x1="230.0" y1="574.05" x2="233.3" y2="574.05" stroke="#000" stroke-width="1.2" />
<text x="229.9" y="577.15" font-family='"Liberation Serif", serif' font-size="9.4" font-weight="bold" stroke="#000" stroke-width="0.42" stroke-linejoin="round" text-anchor="end" >40</text>
<line x1="230.0" y1="605.4" x2="233.3" y2="605.4" stroke="#000" stroke-width="1.2" />
<text x="229.9" y="608.5" font-family='"Liberation Serif", serif' font-size="9.4" font-weight="bold" stroke="#000" stroke-width="0.42" stroke-linejoin="round" text-anchor="end" >20</text>
<line x1="230.0" y1="636.75" x2="233.3" y2="636.75" stroke="#000" stroke-width="1.2" />
<text x="229.9" y="639.85" font-family='"Liberation Serif", serif' font-size="9.4" font-weight="bold" stroke="#000" stroke-width="0.42" stroke-linejoin="round" text-anchor="end" >0</text>
<line x1="240.75" y1="636.75" x2="240.75" y2="639.5" stroke="#000" stroke-width="1.2" />
<line x1="254.5" y1="636.75" x2="254.5" y2="639.5" stroke="#000" stroke-width="1.2" />
<line x1="277.5" y1="636.75" x2="277.5" y2="639.5" stroke="#000" stroke-width="1.2" />
<line x1="291.75" y1="636.75" x2="291.75" y2="639.5" stroke="#000" stroke-width="1.2" />
<line x1="315.5" y1="636.75" x2="315.5" y2="639.5" stroke="#000" stroke-width="1.2" />
<line x1="329.25" y1="636.75" x2="329.25" y2="639.5" stroke="#000" stroke-width="1.2" />
<line x1="352.5" y1="636.75" x2="352.5" y2="639.5" stroke="#000" stroke-width="1.2" />
<line x1="366.75" y1="636.75" x2="366.75" y2="639.5" stroke="#000" stroke-width="1.2" />
<line x1="390.5" y1="636.75" x2="390.5" y2="639.5" stroke="#000" stroke-width="1.2" />
<line x1="404.5" y1="636.75" x2="404.5" y2="639.5" stroke="#000" stroke-width="1.2" />
<line x1="427.25" y1="636.75" x2="427.25" y2="639.5" stroke="#000" stroke-width="1.2" />
<line x1="441.75" y1="636.75" x2="441.75" y2="639.5" stroke="#000" stroke-width="1.2" />
<line x1="240.75" y1="498" x2="240.75" y2="550" stroke="#000" stroke-width="1.4" />
<line x1="240.75" y1="609.5" x2="240.75" y2="630.75" stroke="#000" stroke-width="1.4" />
<line x1="238.05" y1="498" x2="243.45" y2="498" stroke="#000" stroke-width="1.4" />
<line x1="238.05" y1="630.75" x2="243.45" y2="630.75" stroke="#000" stroke-width="1.4" />
<rect x="236.75" y="550" width="8.25" height="59.5" fill="#fff" stroke="#000" stroke-width="1.4"/>
<line x1="236.75" y1="577.75" x2="245" y2="577.75" stroke="#000" stroke-width="1.4" />
<line x1="254.5" y1="483.75" x2="254.5" y2="503" stroke="#000" stroke-width="1.4" />
<line x1="254.5" y1="545" x2="254.5" y2="546.25" stroke="#000" stroke-width="1.4" />
<line x1="251.8" y1="483.75" x2="257.2" y2="483.75" stroke="#000" stroke-width="1.4" />
<line x1="251.8" y1="546.25" x2="257.2" y2="546.25" stroke="#000" stroke-width="1.4" />
<rect x="250" y="503" width="9" height="42" fill="#8e8e8e" stroke="#000" stroke-width="1.4"/>
<line x1="250" y1="524.25" x2="259" y2="524.25" stroke="#000" stroke-width="1.4" />
<line x1="277.5" y1="515.5" x2="277.5" y2="541" stroke="#000" stroke-width="1.4" />
<line x1="277.5" y1="593" x2="277.5" y2="611.75" stroke="#000" stroke-width="1.4" />
<line x1="274.8" y1="515.5" x2="280.2" y2="515.5" stroke="#000" stroke-width="1.4" />
<line x1="274.8" y1="611.75" x2="280.2" y2="611.75" stroke="#000" stroke-width="1.4" />
<rect x="273" y="541" width="9" height="52" fill="#fff" stroke="#000" stroke-width="1.4"/>
<line x1="273" y1="563" x2="282" y2="563" stroke="#000" stroke-width="1.4" />
<line x1="291.75" y1="484.25" x2="291.75" y2="507.5" stroke="#000" stroke-width="1.4" />
<line x1="291.75" y1="553.75" x2="291.75" y2="561.25" stroke="#000" stroke-width="1.4" />
<line x1="289.05" y1="484.25" x2="294.45" y2="484.25" stroke="#000" stroke-width="1.4" />
<line x1="289.05" y1="561.25" x2="294.45" y2="561.25" stroke="#000" stroke-width="1.4" />
<rect x="287" y="507.5" width="9.25" height="46.25" fill="#8e8e8e" stroke="#000" stroke-width="1.4"/>
<line x1="287" y1="544" x2="296.25" y2="544" stroke="#000" stroke-width="1.4" />
<line x1="315.5" y1="508" x2="315.5" y2="541.75" stroke="#000" stroke-width="1.4" />
<line x1="315.5" y1="589.75" x2="315.5" y2="627.5" stroke="#000" stroke-width="1.4" />
<line x1="312.8" y1="508" x2="318.2" y2="508" stroke="#000" stroke-width="1.4" />
<line x1="312.8" y1="627.5" x2="318.2" y2="627.5" stroke="#000" stroke-width="1.4" />
<rect x="311" y="541.75" width="9" height="48.0" fill="#fff" stroke="#000" stroke-width="1.4"/>
<line x1="311" y1="575" x2="320" y2="575" stroke="#000" stroke-width="1.4" />
<line x1="329.25" y1="583.75" x2="329.25" y2="625" stroke="#000" stroke-width="1.4" />
<line x1="329.25" y1="635.5" x2="329.25" y2="636.5" stroke="#000" stroke-width="1.4" />
<line x1="326.55" y1="583.75" x2="331.95" y2="583.75" stroke="#000" stroke-width="1.4" />
<line x1="326.55" y1="636.5" x2="331.95" y2="636.5" stroke="#000" stroke-width="1.4" />
<rect x="324.5" y="625" width="9.5" height="10.5" fill="#8e8e8e" stroke="#000" stroke-width="1.4"/>
<line x1="324.5" y1="632.5" x2="334" y2="632.5" stroke="#000" stroke-width="1.4" />
<line x1="352.5" y1="519.25" x2="352.5" y2="539.5" stroke="#000" stroke-width="1.4" />
<line x1="352.5" y1="592.5" x2="352.5" y2="613.25" stroke="#000" stroke-width="1.4" />
<line x1="349.8" y1="519.25" x2="355.2" y2="519.25" stroke="#000" stroke-width="1.4" />
<line x1="349.8" y1="613.25" x2="355.2" y2="613.25" stroke="#000" stroke-width="1.4" />
<rect x="348" y="539.5" width="9.5" height="53.0" fill="#fff" stroke="#000" stroke-width="1.4"/>
<line x1="348" y1="578.5" x2="357.5" y2="578.5" stroke="#000" stroke-width="1.4" />
<line x1="366.75" y1="600.75" x2="366.75" y2="602" stroke="#000" stroke-width="1.4" />
<line x1="366.75" y1="634.25" x2="366.75" y2="636" stroke="#000" stroke-width="1.4" />
<line x1="364.05" y1="600.75" x2="369.45" y2="600.75" stroke="#000" stroke-width="1.4" />
<line x1="364.05" y1="636" x2="369.45" y2="636" stroke="#000" stroke-width="1.4" />
<rect x="362" y="602" width="9.5" height="32.25" fill="#8e8e8e" stroke="#000" stroke-width="1.4"/>
<line x1="362" y1="628.75" x2="371.5" y2="628.75" stroke="#000" stroke-width="1.4" />
<line x1="390.5" y1="582" x2="390.5" y2="605.5" stroke="#000" stroke-width="1.4" />
<line x1="390.5" y1="622" x2="390.5" y2="628.75" stroke="#000" stroke-width="1.4" />
<line x1="387.8" y1="582" x2="393.2" y2="582" stroke="#000" stroke-width="1.4" />
<line x1="387.8" y1="628.75" x2="393.2" y2="628.75" stroke="#000" stroke-width="1.4" />
<rect x="385.5" y="605.5" width="9.5" height="16.5" fill="#fff" stroke="#000" stroke-width="1.4"/>
<line x1="385.5" y1="615.75" x2="395" y2="615.75" stroke="#000" stroke-width="1.4" />
<line x1="404.5" y1="577.5" x2="404.5" y2="583" stroke="#000" stroke-width="1.4" />
<line x1="404.5" y1="623" x2="404.5" y2="633.75" stroke="#000" stroke-width="1.4" />
<line x1="401.8" y1="577.5" x2="407.2" y2="577.5" stroke="#000" stroke-width="1.4" />
<line x1="401.8" y1="633.75" x2="407.2" y2="633.75" stroke="#000" stroke-width="1.4" />
<rect x="399.5" y="583" width="9.75" height="40" fill="#8e8e8e" stroke="#000" stroke-width="1.4"/>
<line x1="399.5" y1="607.5" x2="409.25" y2="607.5" stroke="#000" stroke-width="1.4" />
<line x1="427.25" y1="601.25" x2="427.25" y2="613.75" stroke="#000" stroke-width="1.4" />
<line x1="427.25" y1="621.25" x2="427.25" y2="633.75" stroke="#000" stroke-width="1.4" />
<line x1="424.55" y1="601.25" x2="429.95" y2="601.25" stroke="#000" stroke-width="1.4" />
<line x1="424.55" y1="633.75" x2="429.95" y2="633.75" stroke="#000" stroke-width="1.4" />
<rect x="422.5" y="613.75" width="9.5" height="7.5" fill="#fff" stroke="#000" stroke-width="1.4"/>
<line x1="422.5" y1="618" x2="432" y2="618" stroke="#000" stroke-width="1.4" />
<line x1="441.75" y1="577.5" x2="441.75" y2="578" stroke="#000" stroke-width="1.4" />
<line x1="441.75" y1="627.5" x2="441.75" y2="633.75" stroke="#000" stroke-width="1.4" />
<line x1="439.05" y1="577.5" x2="444.45" y2="577.5" stroke="#000" stroke-width="1.4" />
<line x1="439.05" y1="633.75" x2="444.45" y2="633.75" stroke="#000" stroke-width="1.4" />
<rect x="436.75" y="578" width="9.75" height="49.5" fill="#8e8e8e" stroke="#000" stroke-width="1.4"/>
<line x1="436.75" y1="593" x2="446.5" y2="593" stroke="#000" stroke-width="1.4" />
<text transform="translate(215.5,557.5) rotate(-90)" font-family='"Liberation Serif", serif' font-size="12" font-weight="bold" stroke="#000" stroke-width="0.42" text-anchor="middle">% of γδ T cells</text>
<text x="247.5" y="652.5" font-family='"Liberation Serif", serif' font-size="12" font-weight="bold" stroke="#000" stroke-width="0.42" stroke-linejoin="round" text-anchor="middle" >3</text>
<text x="284.25" y="652.5" font-family='"Liberation Serif", serif' font-size="12" font-weight="bold" stroke="#000" stroke-width="0.42" stroke-linejoin="round" text-anchor="middle" >6</text>
<text x="322.5" y="652.5" font-family='"Liberation Serif", serif' font-size="12" font-weight="bold" stroke="#000" stroke-width="0.42" stroke-linejoin="round" text-anchor="middle" >3</text>
<text x="358.75" y="652.5" font-family='"Liberation Serif", serif' font-size="12" font-weight="bold" stroke="#000" stroke-width="0.42" stroke-linejoin="round" text-anchor="middle" >6</text>
<text x="398.75" y="652.5" font-family='"Liberation Serif", serif' font-size="12" font-weight="bold" stroke="#000" stroke-width="0.42" stroke-linejoin="round" text-anchor="middle" >3</text>
<text x="435" y="652.5" font-family='"Liberation Serif", serif' font-size="12" font-weight="bold" stroke="#000" stroke-width="0.42" stroke-linejoin="round" text-anchor="middle" >6</text>
<line x1="236.25" y1="656.75" x2="297" y2="656.75" stroke="#000" stroke-width="1.0" />
<line x1="311.25" y1="656.75" x2="372" y2="656.75" stroke="#000" stroke-width="1.0" />
<line x1="392.5" y1="656.75" x2="451.25" y2="656.75" stroke="#000" stroke-width="1.0" />
<text x="266.3" y="671.2" font-family='"Liberation Serif", serif' font-size="12" font-weight="bold" stroke="#000" stroke-width="0.42" stroke-linejoin="round" text-anchor="middle" >Vδ1</text>
<text x="341.3" y="671.2" font-family='"Liberation Serif", serif' font-size="12" font-weight="bold" stroke="#000" stroke-width="0.42" stroke-linejoin="round" text-anchor="middle" >Vδ2</text>
<text x="399.5" y="671.2" font-family='"Liberation Serif", serif' font-size="12" font-weight="bold" stroke="#000" stroke-width="0.42" stroke-linejoin="round" text-anchor="start" >Vδ1<tspan dy="-4.5" font-size="9">-</tspan><tspan dy="4.5">Vδ2</tspan><tspan dy="-4.5" font-size="9">-</tspan></text>
<text x="469.5" y="644.5" font-family='"Liberation Serif", serif' font-size="12" font-weight="bold" stroke="#000" stroke-width="0.42" stroke-linejoin="round" text-anchor="start" >Months</text>
<text x="459.5" y="659.5" font-family='"Liberation Serif", serif' font-size="12" font-weight="bold" stroke="#000" stroke-width="0.42" stroke-linejoin="round" text-anchor="start" >after HSCT</text>
<polyline points="240.75,494.5 240.75,478 254.5,478 254.5,480.5" fill="none" stroke="#000" stroke-width="1.15"/>
<text x="252" y="473.75" font-family='"Liberation Serif", serif' font-size="10" stroke="#000" stroke-width="0.25" stroke-linejoin="round" text-anchor="middle" >P=0.0006</text>
<text x="250.5" y="465.8" font-family='"Liberation Serif", serif' font-size="10" font-weight="bold" stroke="#000" stroke-width="0.42" stroke-linejoin="round" text-anchor="middle" >***</text>
<polyline points="315.5,502.5 315.5,500 329.5,500 329.5,571.25" fill="none" stroke="#000" stroke-width="1.15"/>
<text x="325.3" y="496.25" font-family='"Liberation Serif", serif' font-size="10" stroke="#000" stroke-width="0.25" stroke-linejoin="round" text-anchor="middle" >P=0.0002</text>
<text x="324" y="488" font-family='"Liberation Serif", serif' font-size="10" font-weight="bold" stroke="#000" stroke-width="0.42" stroke-linejoin="round" text-anchor="middle" >***</text>
<polyline points="352.5,515 352.5,512 366.75,512 366.75,588" fill="none" stroke="#000" stroke-width="1.15"/>
<text x="360.7" y="507.5" font-family='"Liberation Serif", serif' font-size="10" stroke="#000" stroke-width="0.25" stroke-linejoin="round" text-anchor="middle" >P=0.0052</text>
<text x="360" y="499.5" font-family='"Liberation Serif", serif' font-size="10" font-weight="bold" stroke="#000" stroke-width="0.42" stroke-linejoin="round" text-anchor="middle" >**</text>
</svg></body></html>
